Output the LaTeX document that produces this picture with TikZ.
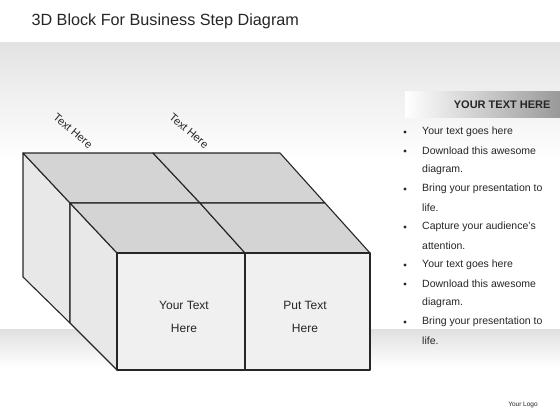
\documentclass[tikz,border=0pt]{standalone}
\usepackage{fontspec}
\setmainfont{Liberation Sans}
\begin{document}
\begin{tikzpicture}[x=1pt,y=-1pt,
  edge/.style={draw=black!85,line width=1.1pt,line join=round},
  topface/.style={edge,fill=black!17},
  sideface/.style={edge,fill=black!9},
  frontface/.style={edge,fill=black!6},
  lbl/.style={font=\fontsize{12}{23}\selectfont,align=center,text=black!85},
  slant/.style={font=\fontsize{11}{13}\selectfont,rotate=-40,text=black!85},
  bul/.style={anchor=west,font=\fontsize{10.5}{12}\selectfont,text=black!85,inner sep=0pt}]
\useasboundingbox (0,0) rectangle (560,420);
\fill[white] (0,0) rectangle (560,420);
% background bands
\shade[top color=black!11,bottom color=white] (0,43) rectangle (560,160);
\shade[top color=black!12,bottom color=white] (0,329) rectangle (560,368);
% title
\node[anchor=west,font=\fontsize{16.2}{19}\selectfont,text=black!85] (title) at (28,21) {3D Block For Business Step Diagram};
% cube coordinates
\coordinate (A) at (23,153);  \coordinate (B) at (153,153); \coordinate (C) at (280,153);
\coordinate (D) at (70,203);  \coordinate (E) at (200,203); \coordinate (F) at (325,203);
\coordinate (G) at (117,253); \coordinate (H) at (245,253); \coordinate (I) at (370,253);
\coordinate (J) at (23,277);  \coordinate (K) at (70,323);
\coordinate (L) at (117,370); \coordinate (M) at (245,370); \coordinate (N) at (370,370);
% left faces
\path[sideface] (A) -- (D) -- (K) -- (J) -- cycle;
\path[sideface] (D) -- (G) -- (L) -- (K) -- cycle;
% top faces
\path[topface] (A) -- (B) -- (E) -- (D) -- cycle;
\path[topface] (B) -- (C) -- (F) -- (E) -- cycle;
\path[topface] (D) -- (E) -- (H) -- (G) -- cycle;
\path[topface] (E) -- (F) -- (I) -- (H) -- cycle;
% front faces
\path[frontface] (G) -- (H) -- (M) -- (L) -- cycle;
\path[frontface] (H) -- (I) -- (N) -- (M) -- cycle;
% labels
\node[lbl] (t1) at (184,317) {Your Text\\Here};
\node[lbl] (t2) at (305,317) {Put Text\\Here};
\node[slant] (s1) at (73,131) {Text Here};
\node[slant] (s2) at (189,131) {Text Here};
% right panel header
\shade[left color=white,right color=black!40] (405,92) rectangle (560,117);
\node[anchor=east,font=\fontsize{11}{13}\selectfont\bfseries,text=black!85] (hdr) at (554,104.5) {YOUR TEXT HERE};
% bullets
\foreach \y/\t/\b in {132/Your text goes here/1,151/Download this awesome/1,170/diagram./0,189/Bring your presentation to/1,208/life./0,227/Capture your audience's/1,246/attention./0,265/Your text goes here/1,284/Download this awesome/1,303/diagram./0,322/Bring your presentation to/1,341/life./0}{
  \node[bul] (b\y) at (422,\y) {\t};
  \ifnum\b=1 \fill[black!85] (405,\y) circle (1.7pt); \fi
}
\node[font=\fontsize{6.5}{8}\selectfont,text=black!85] (logo) at (523,405) {Your Logo};
\end{tikzpicture}
\end{document}
